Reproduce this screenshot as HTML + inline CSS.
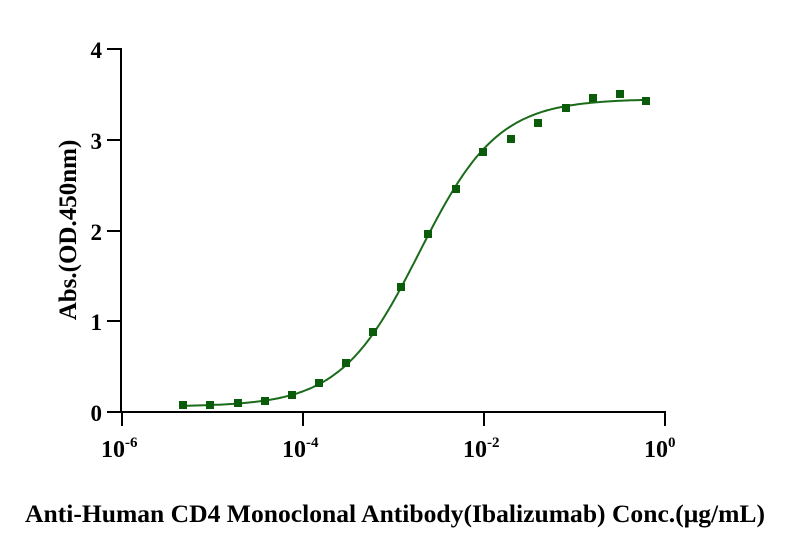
<!DOCTYPE html>
<html><head><meta charset="utf-8"><style>
body{margin:0;background:#fff}
svg text{font-family:"Liberation Serif",serif;font-weight:bold;fill:#000}
</style></head><body>
<svg id="s" width="789" height="553" viewBox="0 0 789 553" xmlns="http://www.w3.org/2000/svg">
<g stroke="#000" stroke-width="2" fill="none">
<line x1="121" y1="48" x2="121" y2="413"/>
<line x1="107" y1="412" x2="666" y2="412"/>
<line x1="107" y1="49" x2="121" y2="49"/>
<line x1="107" y1="140" x2="121" y2="140"/>
<line x1="107" y1="231" x2="121" y2="231"/>
<line x1="107" y1="321" x2="121" y2="321"/>
<line x1="122" y1="412" x2="122" y2="426"/>
<line x1="303" y1="412" x2="303" y2="426"/>
<line x1="484" y1="412" x2="484" y2="426"/>
<line x1="665" y1="412" x2="665" y2="426"/>
</g>
<g font-size="23" text-anchor="end">
<text x="102" y="58">4</text><text x="102" y="149">3</text><text x="102" y="240">2</text><text x="102" y="330">1</text><text x="102" y="421">0</text>
</g>
<g font-size="24">
<text x="101" y="457">10<tspan font-size="15" dy="-10">-6</tspan></text>
<text x="282" y="457">10<tspan font-size="15" dy="-10">-4</tspan></text>
<text x="463" y="457">10<tspan font-size="15" dy="-10">-2</tspan></text>
<text x="644" y="457">10<tspan font-size="15" dy="-10">0</tspan></text>
</g>
<text font-size="25" transform="translate(76,230) rotate(-90)" text-anchor="middle">Abs.(OD.450nm)</text>
<text font-size="25" x="395" y="522" text-anchor="middle" textLength="740" lengthAdjust="spacingAndGlyphs">Anti-Human CD4 Monoclonal Antibody(Ibalizumab) Conc.(μg/mL)</text>
<path id="c" fill="none" stroke="#1a6b1a" stroke-width="2"/>
<g id="p" fill="#0a5c0a"></g>
</svg>
<script>
var d="";for(var x=183;x<=646;x+=2){var L=-6+(x-122)/90.6;var v=0.06+(3.45-0.06)/(1+Math.pow(10,(-2.72-L)*1.0));var y=412-v*90.75;d+=(d?"L":"M")+x+","+y.toFixed(1);}
document.getElementById("c").setAttribute("d",d);
var pts=[[183,405],[210,405],[238,403],[265,401],[292,395],[319,383],[346,363],[373,332],[401,287],[428,234],[456,189],[483,152],[511,139],[538,123],[566,108],[593,98],[620,94],[646,101]];
var g=document.getElementById("p"),h="";pts.forEach(function(p){h+='<rect x="'+(p[0]-4)+'" y="'+(p[1]-4)+'" width="8" height="8"/>';});g.innerHTML=h;
</script>
</body></html>
